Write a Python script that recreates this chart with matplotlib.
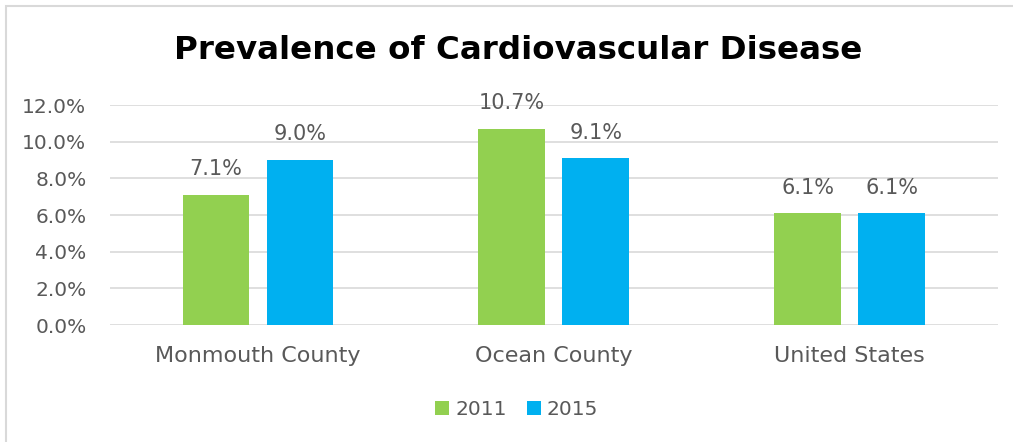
import matplotlib
matplotlib.use("Agg")
import matplotlib.pyplot as plt
import numpy as np
from matplotlib.patches import Rectangle

plt.rcParams["font.family"] = ["DejaVu Sans"]

categories = ["Monmouth County", "Ocean County", "United States"]
years = ["2011", "2015"]
values_2011 = [7.1, 10.7, 6.1]
values_2015 = [9.0, 9.1, 6.1]
y_ticks = [0, 2, 4, 6, 8, 10, 12]

GREEN = "#92D050"
BLUE = "#00B0F0"
TEXT = "#595959"
GRID = "#D9D9D9"

fig = plt.figure(figsize=(10.13, 4.42), dpi=100)
ax = fig.add_axes([0.1086, 0.2647, 0.8764, 0.4977])

x = np.arange(len(categories))
width = 0.226
offset = 0.142
bars1 = ax.bar(x - offset, values_2011, width, color=GREEN, label=years[0], zorder=3)
bars2 = ax.bar(x + offset, values_2015, width, color=BLUE, label=years[1], zorder=3)

for bars in (bars1, bars2):
    for b in bars:
        ax.text(b.get_x() + b.get_width() / 2, b.get_height() + 0.85,
                f"{b.get_height():.1f}%", ha="center", va="bottom",
                fontsize=15, color=TEXT)

ax.set_xlim(-0.5, 2.5)
ax.set_ylim(0, 12)
ax.set_yticks(y_ticks)
ax.set_yticklabels([f"{t:.1f}%" for t in y_ticks], fontsize=14.5, color=TEXT)
ax.set_xticks(x)
ax.set_xticklabels(categories, fontsize=16, color=TEXT)
ax.tick_params(axis="both", length=0)
ax.tick_params(axis="x", pad=15)
ax.tick_params(axis="y", pad=17)
ax.grid(axis="y", color=GRID, linewidth=1.2, zorder=0)
for s in ax.spines.values():
    s.set_visible(False)

fig.text(0.512, 0.885, "Prevalence of Cardiovascular Disease", ha="center",
         va="center", fontsize=23.4, fontweight="bold", color="black")

fig.legend(loc="center", bbox_to_anchor=(0.51, 0.073), ncol=2, frameon=False,
           fontsize=14.5, handlelength=0.7, handleheight=0.7, handletextpad=0.3,
           columnspacing=1.0, labelcolor=TEXT)

fig.add_artist(Rectangle((0.0055, -0.01), 1.1, 0.997, transform=fig.transFigure,
                         fill=False, edgecolor="#D9D9D9", linewidth=1.5))

fig.savefig("out.png", dpi=100)
